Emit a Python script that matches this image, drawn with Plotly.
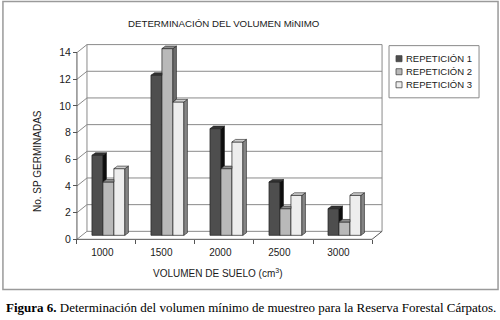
import plotly.graph_objects as go

# ---------------- data ----------------
categories = ["1000", "1500", "2000", "2500", "3000"]
series_names = ["REPETICIÓN 1", "REPETICIÓN 2", "REPETICIÓN 3"]
rep1 = [6, 12, 8, 4, 2]
rep2 = [4, 14, 5, 2, 1]
rep3 = [5, 10, 7, 3, 3]
y_ticks = [0, 2, 4, 6, 8, 10, 12, 14]

series_values = [rep1, rep2, rep3]

# ---------------- styles / geometry ----------------
front_colors = ["#4e4e4e", "#b9b9b9", "#ededed"]
side_colors = ["#0e0e0e", "#6c6c6c", "#858585"]
top_colors = ["#333333", "#8e8e8e", "#cfcfcf"]
edge_color = "#222222"
grid_color = "#8a8a8a"
FONT = "Liberation Sans, Arial, sans-serif"

W, H = 500, 320
XU, YU = 59.0, 13.29           # pixels per data unit
ORIG_PX = (77.0, 239.0)        # pixel position of data (0, 0)
X_LO, X_HI = -0.05, 5.22
Y_LO, Y_HI = -0.2, 14.72
BAR_W = 0.186                   # bar width (category units)
BAR_X0 = 0.254                  # first bar offset inside category
BAR_BASE = 0.3                  # bars sit slightly behind the front edge
DDX, DDY = 0.06, 0.19           # bar depth
WALL_DX, WALL_DY = 0.17, 0.6    # back wall depth
n_cat = len(categories)
y_max = y_ticks[-1]

ml = ORIG_PX[0] + X_LO * XU
pw = (X_HI - X_LO) * XU
mr = W - ml - pw
bottom_px = ORIG_PX[1] - Y_LO * YU
mb = H - bottom_px
mt = ORIG_PX[1] - Y_HI * YU
ph = H - mt - mb


def paper_x(p):
    return (p - ml) / pw


def paper_y(p):
    return (H - mb - p) / ph


fig = go.Figure()

# ---------------- bars (front faces) ----------------
for j, (name, vals) in enumerate(zip(series_names, series_values)):
    xs = [i + BAR_X0 + j * BAR_W + BAR_W / 2 for i in range(n_cat)]
    fig.add_trace(go.Bar(
        x=xs, y=vals, base=BAR_BASE, width=BAR_W, name=name,
        marker=dict(color=front_colors[j], line=dict(color=edge_color, width=0.7)),
        showlegend=False, hoverinfo="skip",
    ))

# ---------------- bar sides and tops (3D look) ----------------
for j, vals in enumerate(series_values):
    sx, sy, tx, ty = [], [], [], []
    for i in range(n_cat):
        v = vals[i]
        x0 = i + BAR_X0 + j * BAR_W
        x1 = x0 + BAR_W
        b = BAR_BASE
        h = b + v
        w = series_values[j + 1][i] if j + 1 < len(series_values) else None
        # side face (visible part)
        if w is None or w < v:
            low = b if w is None else b + w
            sx += [x1, x1 + DDX, x1 + DDX, x1, x1, None]
            sy += [low, low + DDY, h + DDY, h, low, None]
        # top face
        if w is not None and w >= v:
            tx += [x0, x0 + DDX, x1, x1, x0, None]
            ty += [h, h + DDY, h + DDY, h, h, None]
        else:
            tx += [x0, x0 + DDX, x1 + DDX, x1, x0, None]
            ty += [h, h + DDY, h + DDY, h, h, None]
    fig.add_trace(go.Scatter(x=sx, y=sy, mode="lines", fill="toself",
                             fillcolor=side_colors[j],
                             line=dict(color=edge_color, width=0.6),
                             showlegend=False, hoverinfo="skip"))
    fig.add_trace(go.Scatter(x=tx, y=ty, mode="lines", fill="toself",
                             fillcolor=top_colors[j],
                             line=dict(color=edge_color, width=0.6),
                             showlegend=False, hoverinfo="skip"))

# ---------------- walls / grid (shapes below traces) ----------------
shapes = []


def line(x0, y0, x1, y1, color=grid_color, width=1):
    shapes.append(dict(type="line", xref="x", yref="y", x0=x0, y0=y0, x1=x1, y1=y1,
                       line=dict(color=color, width=width), layer="below"))


for v in y_ticks:
    line(WALL_DX, v + WALL_DY, n_cat + WALL_DX, v + WALL_DY)   # back wall grid
    line(0, v, WALL_DX, v + WALL_DY)                             # side wall grid
line(WALL_DX, WALL_DY, WALL_DX, y_max + WALL_DY)
line(n_cat + WALL_DX, WALL_DY, n_cat + WALL_DX, y_max + WALL_DY)
line(0, 0, 0, y_max, color="#555555")                            # front axis
line(0, 0, n_cat, 0, color="#555555")                            # floor front edge
line(n_cat, 0, n_cat + WALL_DX, WALL_DY, color="#555555")       # floor right edge

# outer border
shapes.append(dict(type="rect", xref="paper", yref="paper",
                   x0=paper_x(3), x1=paper_x(498), y0=paper_y(289), y1=paper_y(2),
                   line=dict(color="#9a9a9a", width=1.5), layer="below"))

# legend (box, squares)
shapes.append(dict(type="rect", xref="paper", yref="paper",
                   x0=paper_x(389), x1=paper_x(479), y0=paper_y(98), y1=paper_y(46),
                   line=dict(color="#8a8a8a", width=1), fillcolor="white"))
legend_rows = [59, 72, 85]
annotations = []
for j, name in enumerate(series_names):
    cy = legend_rows[j]
    shapes.append(dict(type="rect", xref="paper", yref="paper",
                       x0=paper_x(396), x1=paper_x(402), y0=paper_y(cy + 3), y1=paper_y(cy - 3),
                       line=dict(color="#444444", width=0.8), fillcolor=front_colors[j]))
    annotations.append(dict(text=name, xref="paper", yref="paper",
                            x=paper_x(404), y=paper_y(cy), xanchor="left", yanchor="middle",
                            showarrow=False, font=dict(family=FONT, size=9.5, color="#1a1a1a")))

annotations += [
    dict(text="DETERMINACIÓN DEL VOLUMEN MiNIMO", xref="paper", yref="paper",
         x=paper_x(224), y=paper_y(24), xanchor="center", yanchor="middle", showarrow=False,
         font=dict(family=FONT, size=9.7, color="#1a1a1a")),
    dict(text="No. SP GERMINADAS", xref="paper", yref="paper", textangle=-90,
         x=paper_x(37), y=paper_y(161), xanchor="center", yanchor="middle", showarrow=False,
         font=dict(family=FONT, size=10, color="#1a1a1a")),
    dict(text="VOLUMEN DE SUELO (cm<sup>3</sup>)", xref="paper", yref="paper",
         x=paper_x(218), y=paper_y(273), xanchor="center", yanchor="middle", showarrow=False,
         font=dict(family=FONT, size=10, color="#1a1a1a")),
    dict(text="<b>Figura 6.</b> Determinación del volumen mínimo de muestreo para la Reserva Forestal Cárpatos.",
         xref="paper", yref="paper", x=paper_x(4), y=paper_y(307), xanchor="left", yanchor="middle",
         showarrow=False, font=dict(family="Liberation Serif, Times New Roman, serif", size=13, color="#000000")),
]

fig.update_layout(
    width=W, height=H,
    margin=dict(l=ml, r=mr, t=mt, b=mb, pad=0),
    paper_bgcolor="white", plot_bgcolor="white",
    barmode="overlay", showlegend=False,
    shapes=shapes, annotations=annotations,
    xaxis=dict(range=[X_LO, X_HI], showgrid=False, zeroline=False, showline=False,
               tickvals=[i + 0.43 for i in range(n_cat)], ticktext=categories,
               ticks="outside", ticklen=0, tickcolor="white",
               minor=dict(tickvals=list(range(n_cat + 1)), ticks="outside", ticklen=4,
                          tickcolor="#555555", tickwidth=1),
               anchor="free", position=(0 - Y_LO) / (Y_HI - Y_LO),
               ticklabelstandoff=4,
               tickfont=dict(family=FONT, size=10, color="#1a1a1a"), fixedrange=True),
    yaxis=dict(range=[Y_LO, Y_HI], showgrid=False, zeroline=False, showline=False,
               tickvals=y_ticks, ticks="outside", ticklen=4, tickcolor="#555555",
               anchor="free", position=(0 - X_LO) / (X_HI - X_LO),
               tickfont=dict(family=FONT, size=10.5, color="#1a1a1a"), fixedrange=True),
)

fig.write_html("out.html", config={"displayModeBar": False},
               post_script="document.body.style.margin='0';")
